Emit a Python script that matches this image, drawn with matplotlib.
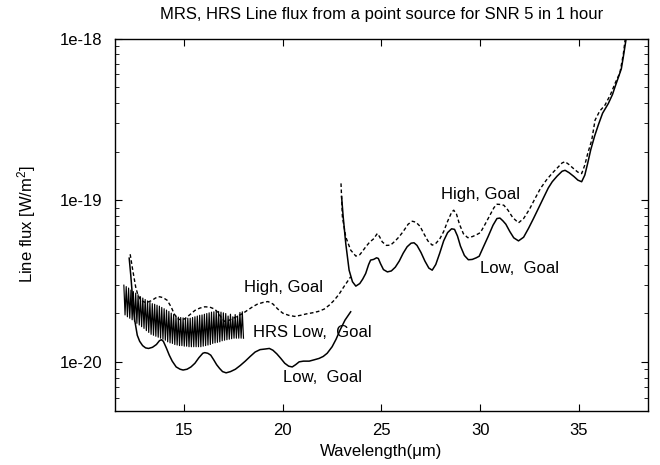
import numpy as np
import matplotlib
matplotlib.use("Agg")
import matplotlib.pyplot as plt
from matplotlib.ticker import FixedLocator, LogLocator, NullFormatter

plt.rcParams['font.family'] = ['Liberation Sans', 'DejaVu Sans']
plt.rcParams['mathtext.default'] = 'regular'

# flux values are in units of 1e-20 W/m^2
UNIT = 1e-20

# MRS, first part (12 - 23.5 um)
low1_wave = [12.22, 12.30, 12.40, 12.50, 12.63, 12.75, 12.90, 13.05, 13.20, 13.40,
             13.60, 13.75, 13.85, 13.95, 14.10, 14.25, 14.40, 14.60, 14.80, 14.95,
             15.15, 15.35, 15.55, 15.75, 15.95, 16.05, 16.20, 16.35, 16.50, 16.65,
             16.80, 16.95, 17.13, 17.35, 17.60, 17.85, 18.10, 18.35, 18.60, 18.85,
             19.10, 19.32, 19.50, 19.70, 19.90, 20.10, 20.30, 20.48, 20.65, 20.83,
             21.05, 21.34, 21.60, 21.84, 22.05, 22.25, 22.50, 22.70, 22.90, 23.15,
             23.44]
low1_flux = [4.38, 3.44, 2.41, 1.81, 1.46, 1.34, 1.26, 1.22, 1.21, 1.23,
             1.28, 1.35, 1.37, 1.34, 1.22, 1.10, 1.01, 0.93, 0.90, 0.89,
             0.90, 0.93, 0.98, 1.06, 1.13, 1.14, 1.13, 1.10, 1.03, 0.96,
             0.91, 0.87, 0.855, 0.87, 0.90, 0.95, 1.01, 1.08, 1.15, 1.19,
             1.20, 1.21, 1.18, 1.12, 1.05, 0.98, 0.94, 0.93, 0.96, 1.00,
             1.01, 1.01, 1.03, 1.05, 1.08, 1.13, 1.24, 1.38, 1.57, 1.81,
             2.04]

high1_wave = [12.27, 12.40, 12.55, 12.65, 12.80, 12.99, 13.15, 13.35, 13.55, 13.70,
              13.80, 13.95, 14.15, 14.35, 14.50, 14.65, 14.85, 15.05, 15.30, 15.55,
              15.80, 16.05, 16.30, 16.55, 16.75, 16.90, 17.05, 17.25, 17.50, 17.75,
              17.97, 18.20, 18.45, 18.70, 19.00, 19.25, 19.50, 19.75, 20.00, 20.30,
              20.60, 20.90, 21.20, 21.50, 21.80, 22.10, 22.35, 22.60, 22.85, 23.10,
              23.44]
high1_flux = [4.63, 3.69, 2.90, 2.62, 2.41, 2.34, 2.34, 2.39, 2.48, 2.53,
              2.52, 2.49, 2.40, 2.18, 1.98, 1.86, 1.81, 1.85, 1.96, 2.08,
              2.15, 2.19, 2.18, 2.12, 2.00, 1.86, 1.78, 1.80, 1.86, 1.93,
              1.99, 2.08, 2.18, 2.27, 2.33, 2.36, 2.28, 2.12, 2.00, 1.94,
              1.91, 1.94, 1.98, 2.01, 2.05, 2.12, 2.24, 2.40, 2.62, 2.92,
              3.36]

# MRS, second part (23 - 38 um)
low2_wave = [22.98, 23.06, 23.19, 23.36, 23.53, 23.70, 23.90, 24.05, 24.20, 24.35,
             24.45, 24.60, 24.75, 24.84, 24.95, 25.10, 25.30, 25.50, 25.70, 25.90,
             26.10, 26.30, 26.50, 26.65, 26.80, 27.00, 27.20, 27.40, 27.57, 27.75,
             27.95, 28.15, 28.35, 28.55, 28.70, 28.85, 29.00, 29.20, 29.40, 29.60,
             29.80, 29.95, 30.15, 30.40, 30.65, 30.85, 31.00, 31.15, 31.30, 31.50,
             31.70, 31.94, 32.20, 32.45, 32.70, 32.95, 33.20, 33.45, 33.65, 33.90,
             34.15, 34.30, 34.50, 34.75, 34.95, 35.14, 35.30, 35.45, 35.60, 35.80,
             35.98, 36.20, 36.49, 36.70, 36.83, 37.00, 37.15, 37.25, 37.39, 37.46]
low2_flux = [10.5, 7.89, 5.40, 3.69, 3.13, 2.94, 3.05, 3.25, 3.52, 4.00,
             4.26, 4.30, 4.40, 4.36, 4.05, 3.72, 3.60, 3.65, 3.85, 4.20,
             4.70, 5.15, 5.42, 5.45, 5.25, 4.75, 4.20, 3.80, 3.69, 4.00,
             4.70, 5.60, 6.30, 6.65, 6.60, 6.00, 5.20, 4.55, 4.28, 4.30,
             4.40, 4.50, 5.10, 5.95, 7.00, 7.70, 7.75, 7.45, 7.10, 6.40,
             5.85, 5.60, 5.90, 6.70, 7.70, 8.90, 10.3, 11.9, 13.0, 14.1,
             15.1, 15.3, 14.8, 14.0, 13.3, 13.0, 14.3, 17.0, 20.5, 25.0,
             29.1, 34.5, 39.6, 45.0, 50.2, 57.5, 65.0, 76.9, 99.0, 112.0]

high2_wave = [22.95, 23.02, 23.19, 23.44, 23.70, 23.90, 24.05, 24.20, 24.40, 24.62,
              24.72, 24.79, 24.90, 25.04, 25.25, 25.46, 25.70, 25.90, 26.10, 26.35,
              26.56, 26.75, 26.95, 27.15, 27.35, 27.57, 27.75, 27.95, 28.15, 28.35,
              28.55, 28.66, 28.80, 28.95, 29.15, 29.37, 29.60, 29.80, 30.01, 30.25,
              30.50, 30.70, 30.85, 31.05, 31.20, 31.40, 31.65, 31.94, 32.20, 32.50,
              32.79, 33.05, 33.35, 33.63, 33.90, 34.15, 34.30, 34.50, 34.75, 34.95,
              35.14, 35.30, 35.45, 35.65, 35.82, 36.05, 36.32, 36.60, 36.83, 37.08,
              37.25, 37.40]
high2_flux = [12.7, 7.89, 5.93, 4.91, 4.51, 4.60, 4.85, 5.14, 5.50, 5.79,
              6.05, 6.22, 5.95, 5.52, 5.25, 5.27, 5.60, 5.95, 6.40, 7.10,
              7.41, 7.30, 6.90, 6.20, 5.60, 5.27, 5.40, 5.75, 6.40, 7.40,
              8.40, 8.67, 8.20, 7.10, 6.20, 5.86, 5.95, 6.10, 6.30, 7.10,
              8.10, 9.00, 9.44, 9.40, 9.30, 8.70, 7.80, 7.24, 7.70, 8.80,
              10.3, 11.8, 13.3, 14.6, 15.8, 17.0, 17.3, 16.6, 15.6, 14.9,
              14.6, 16.5, 19.5, 23.5, 31.3, 35.5, 38.7, 45.0, 52.7, 61.5,
              80.0, 112.0]

# HRS low, goal: fringed curve, peaks and dips
hrs_peak_wave = [11.95, 12.07, 12.19, 12.31, 12.43, 12.55, 12.67, 12.79, 12.91, 13.03,
                 13.15, 13.27, 13.39, 13.51, 13.63, 13.75, 13.87, 13.99, 14.11, 14.23,
                 14.35, 14.47, 14.59, 14.71, 14.83, 14.95, 15.07, 15.19, 15.31, 15.43,
                 15.55, 15.67, 15.79, 15.91, 16.03, 16.15, 16.27, 16.39, 16.51, 16.63,
                 16.75, 16.87, 16.99, 17.11, 17.23, 17.35, 17.47, 17.59, 17.71, 17.83,
                 17.95]
hrs_peak_flux = [2.98, 2.92, 2.86, 2.78, 2.72, 2.66, 2.60, 2.53, 2.48, 2.43,
                 2.38, 2.33, 2.29, 2.27, 2.24, 2.21, 2.17, 2.13, 2.09, 2.05,
                 2.00, 1.96, 1.92, 1.89, 1.88, 1.87, 1.86, 1.86, 1.86, 1.88,
                 1.90, 1.92, 1.94, 1.95, 1.97, 1.99, 2.01, 2.03, 2.04, 2.06,
                 2.05, 2.03, 2.01, 1.99, 1.92, 1.97, 1.90, 1.96, 1.92, 2.02,
                 2.04]
hrs_dip_wave = [12.01, 12.13, 12.25, 12.37, 12.49, 12.61, 12.73, 12.85, 12.97, 13.09,
                13.21, 13.33, 13.45, 13.57, 13.69, 13.81, 13.93, 14.05, 14.17, 14.29,
                14.41, 14.53, 14.65, 14.77, 14.89, 15.01, 15.13, 15.25, 15.37, 15.49,
                15.61, 15.73, 15.85, 15.97, 16.09, 16.21, 16.33, 16.45, 16.57, 16.69,
                16.81, 16.93, 17.05, 17.17, 17.29, 17.41, 17.53, 17.65, 17.77, 17.89,
                18.01]
hrs_dip_flux = [1.95, 1.90, 1.86, 1.82, 1.78, 1.73, 1.69, 1.65, 1.61, 1.56,
                1.52, 1.48, 1.46, 1.44, 1.42, 1.40, 1.38, 1.36, 1.33, 1.31,
                1.30, 1.28, 1.27, 1.26, 1.26, 1.25, 1.25, 1.24, 1.24, 1.24,
                1.24, 1.24, 1.24, 1.25, 1.26, 1.27, 1.28, 1.30, 1.31, 1.32,
                1.33, 1.35, 1.36, 1.37, 1.38, 1.39, 1.40, 1.40, 1.40, 1.40,
                1.40]

# interleave peaks and dips into one zigzag
hrs_wave = np.empty(2 * len(hrs_peak_wave))
hrs_flux = np.empty(2 * len(hrs_peak_wave))
hrs_wave[0::2] = hrs_peak_wave
hrs_wave[1::2] = hrs_dip_wave
hrs_flux[0::2] = hrs_peak_flux
hrs_flux[1::2] = hrs_dip_flux

y_ticks = [1e-20, 1e-19, 1e-18]
y_tick_labels = ['1e-20', '1e-19', '1e-18']
x_ticks = [15, 20, 25, 30, 35]

fig = plt.figure(figsize=(6.6, 4.65), dpi=100)
ax = fig.add_axes([0.1742, 0.1172, 0.8076, 0.8000])

dash = (0, (2.6, 1.8))
ax.plot(low1_wave, np.array(low1_flux) * UNIT, color='black', lw=1.1)
ax.plot(low2_wave, np.array(low2_flux) * UNIT, color='black', lw=1.1)
ax.plot(high1_wave, np.array(high1_flux) * UNIT, color='black', lw=1.0, linestyle=dash)
ax.plot(high2_wave, np.array(high2_flux) * UNIT, color='black', lw=1.0, linestyle=dash)
ax.plot(hrs_wave, hrs_flux * UNIT, color='black', lw=0.85)

# curve labels
ax.text(18.06, 2.72 * UNIT, 'High, Goal', fontsize=12)
ax.text(18.47, 1.42 * UNIT, 'HRS Low,  Goal', fontsize=12)
ax.text(19.99, 0.755 * UNIT, 'Low,  Goal', fontsize=12)
ax.text(27.99, 10.14 * UNIT, 'High, Goal', fontsize=12)
ax.text(30.01, 3.54 * UNIT, 'Low,  Goal', fontsize=12)

ax.set_yscale('log')
ax.set_xlim(11.5, 38.5)
ax.set_ylim(5e-21, 1e-18)

ax.yaxis.set_major_locator(FixedLocator(y_ticks))
ax.set_yticklabels(y_tick_labels)
ax.yaxis.set_minor_locator(LogLocator(base=10, subs=range(2, 10)))
ax.yaxis.set_minor_formatter(NullFormatter())
ax.set_xticks(x_ticks)
ax.set_xticklabels([str(t) for t in x_ticks])

ax.tick_params(which='both', direction='in', top=True, right=True, labelsize=12, color='black')
ax.tick_params(axis='x', which='major', length=5, pad=9)
ax.tick_params(axis='y', which='major', length=5, pad=9)
ax.tick_params(axis='y', which='minor', length=3)
for s in ax.spines.values():
    s.set_linewidth(1.0)

ax.set_title('MRS, HRS Line flux from a point source for SNR 5 in 1 hour', fontsize=12, pad=14)
ax.set_xlabel('Wavelength(\u03bcm)', fontsize=12, labelpad=4)
ax.set_ylabel('Line flux [W/m$^2$]', fontsize=12, labelpad=16)

fig.savefig('out.png', dpi=100)
